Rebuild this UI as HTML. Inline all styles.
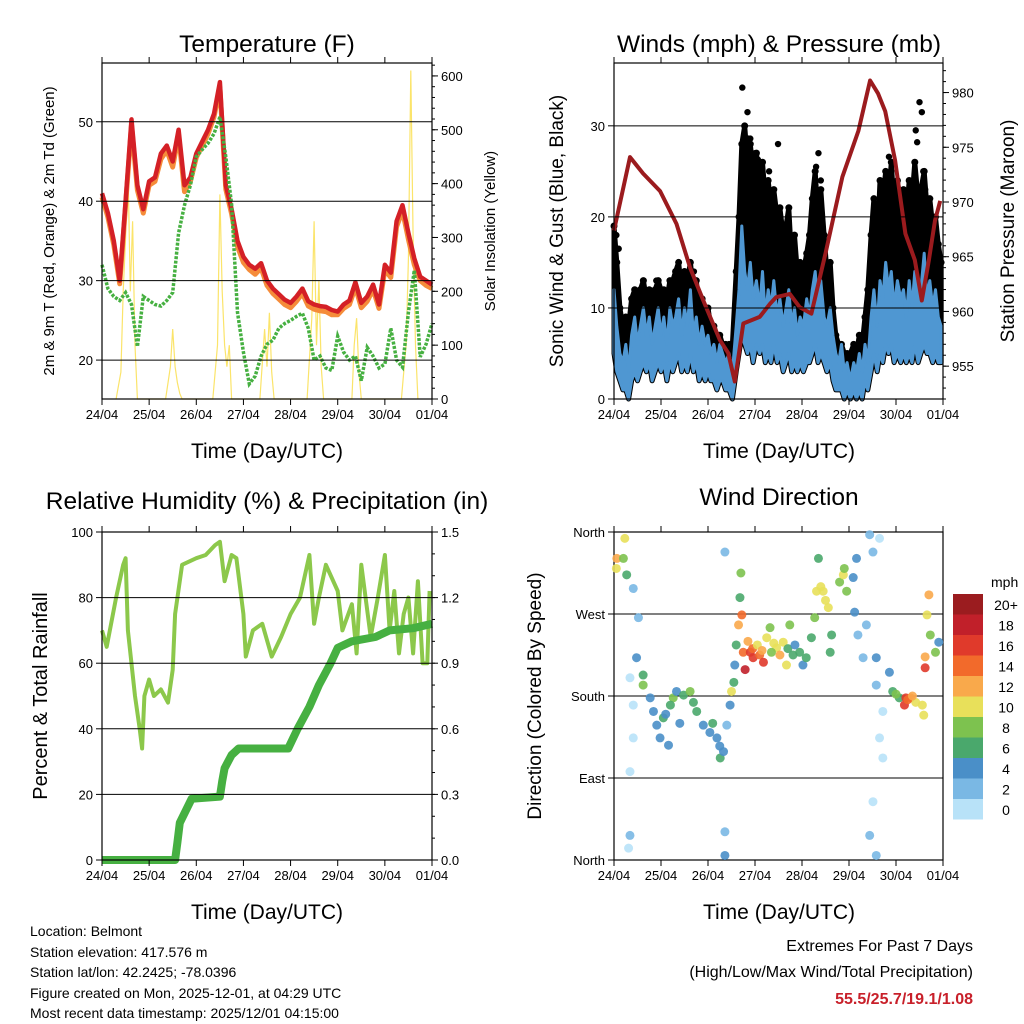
<!DOCTYPE html>
<html><head><meta charset="utf-8"><style>
html,body{margin:0;padding:0;background:#fff;}
svg{display:block;font-family:"Liberation Sans",Arial,sans-serif;}
</style></head><body>
<svg id="c" width="1024" height="1024" viewBox="0 0 1024 1024">
<g id="g"></g>
<text x="267" y="52" font-size="24.5" text-anchor="middle">Temperature (F)</text>
<text x="779" y="52" font-size="24.5" text-anchor="middle">Winds (mph) &amp; Pressure (mb)</text>
<text x="267" y="509" font-size="24.5" text-anchor="middle">Relative Humidity (%) &amp; Precipitation (in)</text>
<text x="779" y="505" font-size="24.5" text-anchor="middle">Wind Direction</text>
<text x="267" y="458" font-size="21" text-anchor="middle">Time (Day/UTC)</text>
<text x="779" y="458" font-size="21" text-anchor="middle">Time (Day/UTC)</text>
<text x="267" y="919" font-size="21" text-anchor="middle">Time (Day/UTC)</text>
<text x="779" y="919" font-size="21" text-anchor="middle">Time (Day/UTC)</text>
<text transform="translate(54,231) rotate(-90)" font-size="15" text-anchor="middle">2m &amp; 9m T (Red, Orange) &amp; 2m Td (Green)</text>
<text transform="translate(495,231) rotate(-90)" font-size="15" text-anchor="middle">Solar Insolation (Yellow)</text>
<text transform="translate(563,231) rotate(-90)" font-size="19" text-anchor="middle">Sonic Wind &amp; Gust (Blue, Black)</text>
<text transform="translate(1014,231) rotate(-90)" font-size="19" text-anchor="middle">Station Pressure (Maroon)</text>
<text transform="translate(47,696) rotate(-90)" font-size="20" text-anchor="middle">Percent &amp; Total Rainfall</text>
<text transform="translate(541,696) rotate(-90)" font-size="19" text-anchor="middle">Direction (Colored By Speed)</text>
<g font-size="14">
<text x="30" y="936">Location: Belmont</text>
<text x="30" y="957">Station elevation: 417.576 m</text>
<text x="30" y="977">Station lat/lon: 42.2425; -78.0396</text>
<text x="30" y="998">Figure created on Mon, 2025-12-01, at 04:29 UTC</text>
<text x="30" y="1018">Most recent data timestamp: 2025/12/01 04:15:00</text>
</g>
<g text-anchor="end" font-size="16">
<text x="973" y="951">Extremes For Past 7 Days</text>
<text x="973" y="977">(High/Low/Max Wind/Total Precipitation)</text>
<text x="973" y="1004" fill="#c8202a" font-weight="bold">55.5/25.7/19.1/1.08</text>
</g>
</svg>
<script>
const dayLabels=["24/04","25/04","26/04","27/04","28/04","29/04","30/04","01/04"];
const tGrid=[0,0.125,0.25,0.375,0.5,0.625,0.75,0.875,1,1.125,1.25,1.375,1.5,1.625,1.75,1.875,2,2.125,2.25,2.375,2.5,2.625,2.75,2.875,3,3.125,3.25,3.375,3.5,3.625,3.75,3.875,4,4.125,4.25,4.375,4.5,4.625,4.75,4.875,5,5.125,5.25,5.375,5.5,5.625,5.75,5.875,6,6.125,6.25,6.375,6.5,6.625,6.75,6.875,7];
const tempRed=[41,38.5,35,30,40,50.3,42,39,42.5,43,46,47,45,49,42,43,46,47.5,49,51,55,42,39,35,33,32,31.5,32.2,30,29,28.3,27.6,27.2,28,29,27.4,27,26.8,26.7,26.3,26.1,27,27.5,29.8,27.2,28,29.5,27,32,31,37.5,39.5,36,32.8,30.5,30,29.5];
const tempOrange=[40.5,38,34.5,29.6,39.5,49.6,41.4,38.5,42,42.5,45.3,46.4,44.3,48.3,41.2,42.5,45.5,47,48.5,50.6,54.3,41.5,38.4,34.3,32.3,31.4,30.8,31.6,29.4,28.4,27.7,27,26.6,27.4,28.4,26.8,26.4,26.2,26.1,25.7,25.7,26.5,27,29.2,26.6,27.4,28.9,26.5,31.4,30.4,36.8,38.8,35.2,32,30,29.4,29];
const dewGreen=[32,29,28,27.5,28.5,27,21.7,28,27.5,27,26.8,27.5,28.5,36,39.5,42,45.6,46.5,47.3,48.5,50.6,45.6,39.6,26,21,17,18,20.5,22,22.5,24,24.6,25,25.5,25.9,24,20,20.5,19,18.7,23,21,20,20.5,17.4,21.6,20.5,19,19.5,24,20,19.1,26,31.3,20.4,22,24.6];
const solarT=[0.3,0.4,0.45,0.5,0.55,0.6,0.65,0.7,0.75,1.35,1.45,1.5,1.55,1.6,1.65,1.7,2.35,2.45,2.5,2.55,2.6,2.65,2.7,2.75,3.35,3.45,3.5,3.55,3.6,3.65,4.35,4.45,4.5,4.55,4.6,4.65,4.7,5.3,5.35,5.4,5.45,5.5,6.35,6.45,6.5,6.55,6.6,6.65,6.7];
const solarV=[0,50,200,300,440,200,330,100,0,0,60,130,60,30,10,0,0,100,380,200,100,60,100,0,0,130,60,160,50,0,0,150,330,100,220,60,0,0,100,150,50,0,0,100,260,610,300,100,0];
const pressT=[0,0.34,0.62,0.98,1.33,1.62,1.9,2.25,2.43,2.57,2.75,3.1,3.32,3.45,3.74,3.95,4.2,4.5,4.86,5.2,5.45,5.62,5.77,5.98,6.2,6.4,6.55,6.7,6.83,6.94];
const pressV=[967.4,974.1,972.6,971,968,964,961,957.4,956.2,953.6,958.9,959.5,960.7,961.3,961.6,960.4,959.8,965.3,972.3,976.5,981.1,979.9,978.3,973.8,967.1,964.7,961,964.7,968.3,970.1];
const windT=[0,0.06,0.125,0.19,0.25,0.31,0.375,0.44,0.5,0.56,0.625,0.69,0.75,0.81,0.875,0.94,1,1.06,1.125,1.19,1.25,1.31,1.375,1.44,1.5,1.56,1.625,1.69,1.75,1.81,1.875,1.94,2,2.06,2.125,2.19,2.25,2.31,2.375,2.45,2.52,2.6,2.66,2.72,2.78,2.84,2.9,2.96,3.03,3.1,3.16,3.22,3.28,3.34,3.4,3.47,3.53,3.6,3.66,3.72,3.78,3.84,3.9,3.96,4.03,4.1,4.16,4.22,4.28,4.34,4.4,4.47,4.53,4.6,4.66,4.72,4.78,4.84,4.9,4.96,5.03,5.1,5.16,5.22,5.28,5.34,5.4,5.47,5.53,5.6,5.66,5.72,5.78,5.84,5.9,5.96,6.03,6.1,6.16,6.22,6.28,6.34,6.4,6.47,6.53,6.6,6.66,6.72,6.78,6.84,6.9,6.96];
const windHi=[12,8,5,4,6,3,7,9,6,8,10,7,9,6,8,10,7,9,6,10,8,9,11,7,10,8,12,7,9,6,8,6,7,5,6,4,6,5,4,5,3,8,12,19,14,12,15,11,13,10,14,9,12,10,13,9,11,8,10,12,8,10,7,9,8,11,9,12,14,10,13,9,8,10,7,5,4,6,3,4,2,4,3,5,3,6,4,9,12,8,13,11,15,12,14,10,13,11,12,9,13,10,14,11,12,16,11,13,10,12,9,8];
const windLo=[5,3,2,1,1,0,2,3,2,3,4,3,4,2,3,4,3,4,2,4,3,4,5,3,4,3,5,3,4,2,3,2,3,2,2,1,2,2,1,1,0,3,5,7,6,5,6,4,6,5,6,4,5,4,6,4,5,3,4,5,3,4,3,4,3,4,4,5,6,4,5,4,3,4,2,1,1,1,0,1,0,1,0,1,0,2,1,3,5,3,5,4,6,5,6,4,5,4,5,4,5,4,6,4,5,6,5,5,4,5,4,4];
const gustHi=[19,15,10,8,9,8,11,12,11,12,13,11,12,11,12,13,12,12,11,13,13,14,15,12,14,13,15,12,13,10,11,9,10,8,8,7,7,6,6,6,6,14,20,28,30,26,28,25,27,24,26,22,24,21,23,20,21,18,19,21,15,18,14,15,14,16,18,22,25,20,23,18,14,15,10,7,6,6,5,5,5,6,5,7,6,9,12,18,22,17,24,22,25,22,26,21,24,21,23,20,24,22,26,22,23,25,21,22,19,20,17,15];
const gustOutT=[0.05,0.1,0.9,1.2,1.7,2.73,2.78,2.84,2.86,2.9,3.0,3.06,3.2,3.49,3.3,4.3,4.35,4.4,5.85,5.9,6.42,6.45,6.5,6.55,6.58,6.62];
const gustOutV=[18,16.5,13,12,14,34.2,27.7,31.5,28.6,28.6,27,26.3,24,28,25,25.5,27,24,26.6,25,29.5,28.2,32.6,31.5,25,23];
const rhT=[0,0.1,0.3,0.45,0.5,0.55,0.7,0.8,0.85,0.9,1,1.1,1.25,1.4,1.5,1.55,1.7,2,2.2,2.4,2.5,2.6,2.75,2.85,3,3.05,3.2,3.4,3.6,3.8,4,4.2,4.4,4.5,4.6,4.75,5,5.1,5.3,5.4,5.5,5.7,5.85,6,6.1,6.2,6.3,6.4,6.5,6.6,6.7,6.8,6.9,6.95];
const rhV=[70,65,80,90,92,70,50,40,34,50,55,50,52,48,58,75,90,92,93,96,97,85,93,92,75,62,70,72,62,68,75,80,93,72,80,90,82,70,78,63,90,68,80,93,70,82,63,75,80,63,85,60,60,82];
const rainT=[0,1.55,1.6,1.65,1.9,2.5,2.55,2.6,2.75,2.9,3.95,4.15,4.4,4.6,4.85,5,5.3,5.8,6.1,6.6,7];
const rainV=[0,0,0.08,0.17,0.28,0.29,0.36,0.42,0.48,0.51,0.51,0.6,0.7,0.8,0.9,0.97,1.0,1.02,1.05,1.06,1.08];
const dirT=[0.06,0.05,0.2,0.23,0.27,0.41,0.52,0.48,0.34,0.41,0.41,0.34,0.34,0.31,0.62,0.62,0.77,0.84,0.91,1.05,0.98,1.16,1.26,1.33,1.48,1.62,1.69,1.76,1.9,2.04,2.19,2.26,2.33,2.36,2.36,2.36,2.4,2.47,2.55,2.5,2.57,2.6,2.65,2.68,2.7,2.72,2.75,2.79,2.9,2.96,3.1,3.18,3.25,3.32,3.46,3.53,3.6,3.67,3.74,3.81,3.95,4.02,4.09,4.2,4.27,4.31,4.35,4.45,4.56,4.63,4.6,4.8,4.88,4.95,5.09,5.16,5.12,5.19,5.3,5.44,5.51,5.58,5.58,5.65,5.72,5.65,5.72,5.51,5.44,5.58,5.37,5.86,5.93,6.07,6.21,6.31,6.42,6.56,6.59,6.62,6.62,6.66,6.7,6.73,6.84,6.91,6.18,2.85,2.95,3.05,3.15,3.35,3.4,3.7,3.85,1.1,1.2,1.4,2.1,2.25,6.0,6.25,6.35,4.4,4.5,4.9];
const dirV=[331,320,331,353,313,298,266,222,200,170,134,97,27,13,203,192,178,163,148,156,134,126,178,185,181,185,173,163,148,140,134,112,119,338,31,5,148,170,195,185,214,236,258,288,315,269,228,209,228,222,225,217,244,255,233,225,239,214,258,225,228,214,222,244,266,295,331,295,277,247,228,305,313,295,310,331,272,247,222,357,338,222,192,353,163,134,112,64,27,5,258,206,185,178,178,178,173,170,159,211,223,269,291,247,228,239,170,240,232,236,230,228,238,232,236,160,170,150,150,125,182,176,180,300,285,320];
const dirS=[12,10,8,10,6,2,2,4,0,0,0,0,2,0,6,8,4,4,4,6,4,4,8,4,6,8,6,6,4,4,4,6,4,2,2,4,2,4,6,10,4,6,12,6,8,14,14,18,16,16,14,16,10,8,10,12,10,10,8,6,6,4,6,6,8,10,6,10,10,6,6,8,10,8,4,4,4,2,2,2,2,4,2,0,0,0,0,0,2,2,2,4,6,6,16,14,10,10,10,16,12,10,12,8,8,4,16,12,14,10,12,8,10,6,4,4,6,4,6,4,8,14,12,10,10,8];
const cbLabels=["20+","18","16","14","12","10","8","6","4","2","0"];
const cbColors=["#9b1c1f","#c1202a","#e03a2b","#f26a2b","#f9a94b","#e8e05a","#7dc24f","#4aa86c","#4a8fc8","#7ab8e4","#b8e2f8"];

const NS="http://www.w3.org/2000/svg";
const G=document.getElementById('g');
function mk(tag,at,parent){const e=document.createElementNS(NS,tag);for(const k in at)e.setAttribute(k,at[k]);(parent||G).appendChild(e);return e;}
function sx(p,t){return p.x0+(p.x1-p.x0)*t/7;}
function sy(p,v,lo,hi){return p.y1-(p.y1-p.y0)*(v-lo)/(hi-lo);}
function linePath(p,ts,vs,lo,hi){return ts.map((t,i)=>(i?'L':'M')+sx(p,t).toFixed(1)+','+sy(p,vs[i],lo,hi).toFixed(1)).join('');}
function bandPath(p,ts,top,bot,lo,hi){return 'M'+ts.map((t,i)=>sx(p,t).toFixed(1)+','+sy(p,top[i],lo,hi).toFixed(1)).join('L')+'L'+ts.slice().reverse().map((t,j)=>{const i=ts.length-1-j;return sx(p,t).toFixed(1)+','+sy(p,bot[i],lo,hi).toFixed(1);}).join('L')+'Z';}
function frame(p,name,lTicks,lLabels,lo,hi,rTicks,rLabels,rlo,rhi,rMinor){
  const g=mk('g',{});
  
  
  lTicks.forEach((v,i)=>{const y=sy(p,v,lo,hi);
    if(v>lo&&v<hi){const l=mk('line',{x1:p.x0,x2:p.x1,y1:y,y2:y,stroke:'#000','stroke-width':1},g);}
    mk('line',{x1:p.x0-6,x2:p.x0,y1:y,y2:y,stroke:'#000'},g);
    const t=mk('text',{x:p.x0-9,y:y+5,'font-size':13,'text-anchor':'end'},g);t.textContent=lLabels[i];
    });
  if(rTicks){rTicks.forEach((v,i)=>{const y=sy(p,v,rlo,rhi);
    mk('line',{x1:p.x1,x2:p.x1+6,y1:y,y2:y,stroke:'#000'},g);
    const t=mk('text',{x:p.x1+9,y:y+5,'font-size':13},g);t.textContent=rLabels[i];
    });
    if(rMinor){for(let v=rlo;v<=rhi;v+=rMinor){const y=sy(p,v,rlo,rhi);mk('line',{x1:p.x1,x2:p.x1+3,y1:y,y2:y,stroke:'#000'},g);}}}
  dayLabels.forEach((d,i)=>{const x=sx(p,i);
    mk('line',{x1:x,x2:x,y1:p.y1,y2:p.y1+6,stroke:'#000'},g);
    mk('line',{x1:x,x2:x,y1:p.y0,y2:p.y0-6,stroke:'#000'},g);
    const t=mk('text',{x:x,y:p.y1+20,'font-size':13,'text-anchor':'middle'},g);t.textContent=d;
    });
  const r=mk('rect',{x:p.x0,y:p.y0,width:p.x1-p.x0,height:p.y1-p.y0,fill:'none',stroke:'#000','stroke-width':1.2},g);
  
}
let e;
// Panel 1: temperature
const P1={x0:102,x1:432,y0:63,y1:399};
const tLo=15.1,tHi=57.4;
e=mk('path',{d:linePath(P1,solarT,solarV,0,624),fill:'none',stroke:'#fbe46a','stroke-width':1.2});


e=mk('path',{d:linePath(P1,tGrid,tempOrange,tLo,tHi),fill:'none',stroke:'#f58c3a','stroke-width':5,'stroke-linejoin':'round'});


e=mk('path',{d:linePath(P1,tGrid,tempRed,tLo,tHi),fill:'none',stroke:'#d42026','stroke-width':4.5,'stroke-linejoin':'round'});


e=mk('path',{d:linePath(P1,tGrid,dewGreen,tLo,tHi),fill:'none',stroke:'#46b041','stroke-width':3.5,'stroke-dasharray':'3 1.5'});


frame(P1,'temp',[20,30,40,50],["20","30","40","50"],tLo,tHi,[0,100,200,300,400,500,600],["0","100","200","300","400","500","600"],0,624,20);
// Panel 2: winds
const P2={x0:614,x1:943,y0:63,y1:399};
const wLo=0,wHi=36.9,pLo=952,pHi=982.7;
e=mk('path',{d:bandPath(P2,windT,gustHi,windLo,wLo,wHi),fill:'#000',stroke:'#000','stroke-width':5,'stroke-linejoin':'round'});


windT.forEach((t,i)=>{
  const d=mk('circle',{cx:sx(P2,t),cy:sy(P2,gustHi[i],wLo,wHi),r:3.5,fill:'#000'});
  
  
});
gustOutT.forEach((t,i)=>{
  const d=mk('circle',{cx:sx(P2,t),cy:sy(P2,gustOutV[i],wLo,wHi),r:3.2,fill:'#000'});
  
  
});
e=mk('path',{d:bandPath(P2,windT,windHi,windLo,wLo,wHi),fill:'#4f97d2',stroke:'#4f97d2','stroke-width':3,'stroke-linejoin':'round'});


e=mk('path',{d:linePath(P2,pressT,pressV,pLo,pHi),fill:'none',stroke:'#9b1b1e','stroke-width':4,'stroke-linejoin':'round'});


frame(P2,'wind',[0,10,20,30],["0","10","20","30"],wLo,wHi,[955,960,965,970,975,980],["955","960","965","970","975","980"],pLo,pHi,1);
// Panel 3: RH
const P3={x0:102,x1:432,y0:532,y1:860};
e=mk('path',{d:linePath(P3,rhT,rhV,0,100),fill:'none',stroke:'#8cc84b','stroke-width':4,'stroke-linejoin':'round'});


e=mk('path',{d:linePath(P3,rainT,rainV,0,1.5),fill:'none',stroke:'#46b041','stroke-width':8,'stroke-linejoin':'round'});


frame(P3,'rh',[0,20,40,60,80,100],["0","20","40","60","80","100"],0,100,[0,0.3,0.6,0.9,1.2,1.5],["0.0","0.3","0.6","0.9","1.2","1.5"],0,1.5,0.1);
// Panel 4: direction
const P4={x0:614,x1:943,y0:532,y1:860};
frame(P4,'dir',[0,90,180,270,360],["North","East","South","West","North"],0,360,null);
dirT.forEach((t,i)=>{
  const ci=10-Math.min(10,Math.floor(dirS[i]/2));
  const d=mk('circle',{cx:sx(P4,t),cy:sy(P4,dirV[i],0,360),r:4.5,fill:cbColors[ci],opacity:0.9});
  
  
});
const cb=mk('g',{});


e=mk('text',{x:991,y:587,'font-size':14},cb);e.textContent='mph';
cbColors.forEach((c,i)=>{
  const r=mk('rect',{x:953,y:594+i*20.5,width:30,height:20.5,fill:c},cb);
  
  
  const t=mk('text',{x:1006,y:610+i*20.5,'font-size':14,'text-anchor':'middle'},cb);t.textContent=cbLabels[i];
});
</script>
</body></html>
